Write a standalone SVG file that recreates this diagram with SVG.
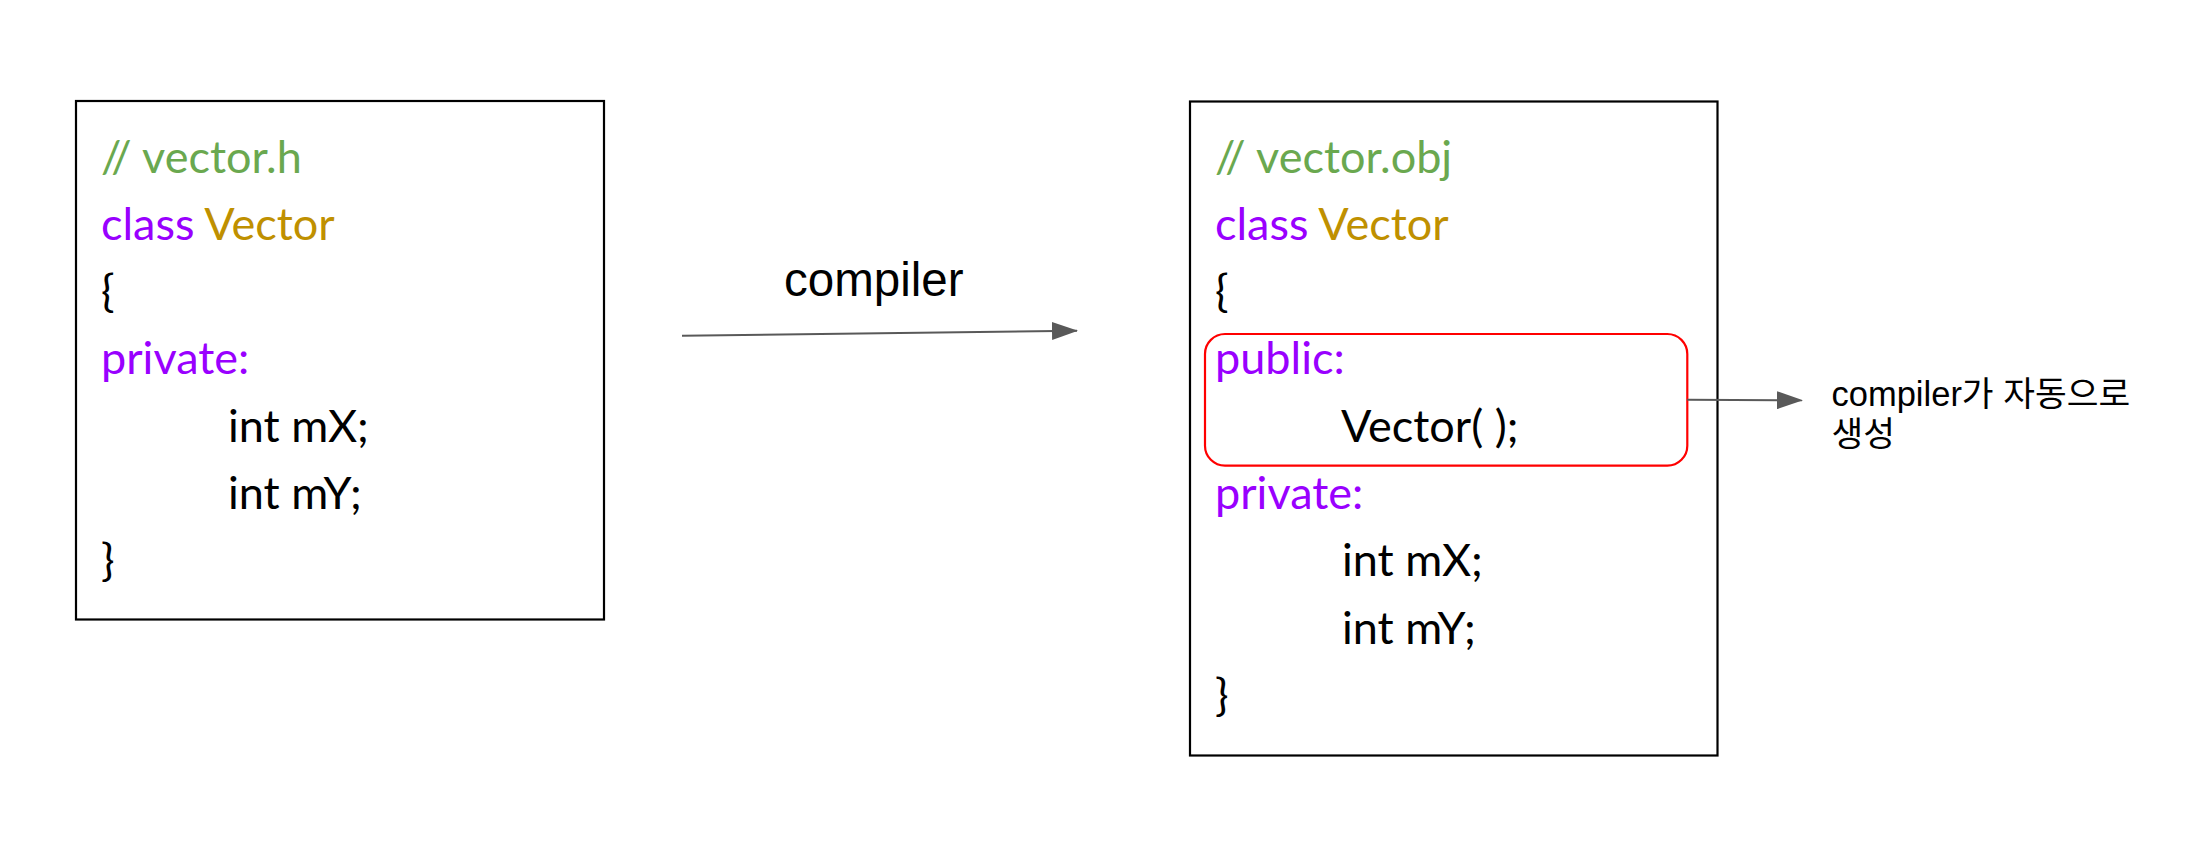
<svg xmlns="http://www.w3.org/2000/svg" width="2192" height="866" viewBox="0 0 2192 866">
  <style>
    .box { fill: #ffffff; stroke: #000000; stroke-width: 2.2; }
    .hl { fill: none; stroke: #ff0000; stroke-width: 2.2; }
    .code { font-family: Lato, "Noto Sans", sans-serif; font-size: 45px; fill: #000000; }
    .cmt { fill: #6aa84f; }
    .kw { fill: #9900ff; }
    .cls { fill: #bf9000; }
    .lbl { font-family: "Liberation Sans", "Noto Sans CJK KR", sans-serif; fill: #000000; }
    .conn { fill: none; stroke: #595959; stroke-width: 2; }
  </style>
  <defs>
    <marker id="arrow" markerWidth="13" markerHeight="9" refX="12.5" refY="4.5" orient="auto" markerUnits="strokeWidth">
      <path d="M0,0 L13,4.5 L0,9 Z" fill="#595959"/>
    </marker>
  </defs>

  <rect width="2192" height="866" fill="#ffffff"/>

  <g id="node-vector-h">
    <rect class="box" x="76" y="101" width="528" height="518.5"/>
    <text class="code" x="101" y="172.5"><tspan class="cmt">// vector.h</tspan></text>
    <text class="code" x="101" y="239.8"><tspan class="kw">class</tspan> <tspan class="cls">Vector</tspan></text>
    <text class="code" x="101" y="307.1">{</text>
    <text class="code kw" x="101" y="374.4">private:</text>
    <text class="code" x="228" y="441.7">int mX;</text>
    <text class="code" x="228" y="509">int mY;</text>
    <text class="code" x="101" y="576.3">}</text>
  </g>

  <g id="node-vector-obj">
    <rect class="box" x="1190" y="101.5" width="527.5" height="654"/>
    <text class="code" x="1215" y="172.5"><tspan class="cmt">// vector.obj</tspan></text>
    <text class="code" x="1215" y="239.8"><tspan class="kw">class</tspan> <tspan class="cls">Vector</tspan></text>
    <text class="code" x="1215" y="307.1">{</text>
    <text class="code kw" x="1215" y="374.4">public:</text>
    <text class="code" x="1341" y="441.7">Vector( );</text>
    <text class="code kw" x="1215" y="509">private:</text>
    <text class="code" x="1342" y="576.3">int mX;</text>
    <text class="code" x="1342" y="643.6">int mY;</text>
    <text class="code" x="1215" y="710.9">}</text>
  </g>

  <g id="node-public-highlight">
    <rect class="hl" x="1205" y="334" width="482.3" height="131.7" rx="20" ry="20"/>
  </g>

  <g id="label-compiler">
    <text class="lbl" x="784" y="296" font-size="47.5">compiler</text>
  </g>

  <g id="label-auto">
    <text class="lbl" x="1831.5" y="405.5" font-size="34.5">compiler가 자동으로</text>
    <text class="lbl" x="1831.5" y="446" font-size="34.5">생성</text>
  </g>

  <g id="connectors">
    <line class="conn" x1="682" y1="335.7" x2="1077" y2="330.7" marker-end="url(#arrow)"/>
    <line class="conn" x1="1687.3" y1="399.8" x2="1802" y2="400.3" marker-end="url(#arrow)"/>
  </g>
</svg>
